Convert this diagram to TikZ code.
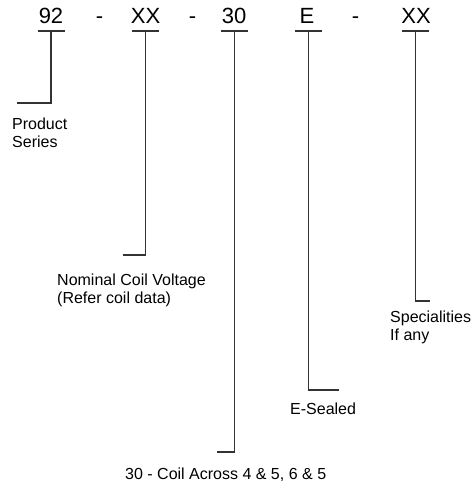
\documentclass[tikz,border=0pt]{standalone}
\usepackage{fontspec}
\setmainfont{Liberation Sans}
\begin{document}
\begin{tikzpicture}[x=1pt,y=-1pt,
  code/.style={font=\fontsize{22}{26}\selectfont, inner sep=0pt, anchor=base},
  desc/.style={font=\fontsize{16}{18}\selectfont, inner sep=0pt, anchor=north west, align=left},
  ln/.style={line width=1.1pt, black!80}]
\useasboundingbox (0,0) rectangle (473,486);
% code letters
\node[code] (t1) at (51,24) {92};
\node[code] (d1) at (99.5,24) {-};
\node[code] (t2) at (145.5,24) {XX};
\node[code] (d2) at (192.5,24) {-};
\node[code] (t3) at (234,24) {30};
\node[code] (t4) at (307,24) {E};
\node[code] (d3) at (355.5,24) {-};
\node[code] (t5) at (416,24) {XX};
% underline centres
\coordinate (u1) at (51,31);
\coordinate (u2) at (145.5,31);
\coordinate (u3) at (234.5,31);
\coordinate (u4) at (308.5,31);
\coordinate (u5) at (415.5,31);
\foreach \u in {u1,u2,u3,u4,u5}
  \draw[ln] ([xshift=-13.5pt]\u) -- ([xshift=13.5pt]\u);
% leg ends
\coordinate (e1) at (17,103);
\coordinate (e2) at (123,255);
\coordinate (e3) at (217,452);
\coordinate (e4) at (339,390);
\coordinate (e5) at (430,301);
\draw[ln] (u1) |- (e1);
\draw[ln] (u2) |- (e2);
\draw[ln] (u3) |- (e3);
\draw[ln] (u4) |- (e4);
\draw[ln] (u5) |- (e5);
% descriptions
\node[desc] (ps) at (12,117.5) {Product\\Series};
\node[desc] (nv) at (57,273.5) {Nominal Coil Voltage\\(Refer coil data)};
\node[desc] (cl) at (125,467.5) {30 - Coil Across 4 \& 5, 6 \& 5};
\node[desc] (es) at (290,402.3) {E-Sealed};
\node[desc] (sp) at (390,310.3) {Specialities\\If any};
\end{tikzpicture}
\end{document}
